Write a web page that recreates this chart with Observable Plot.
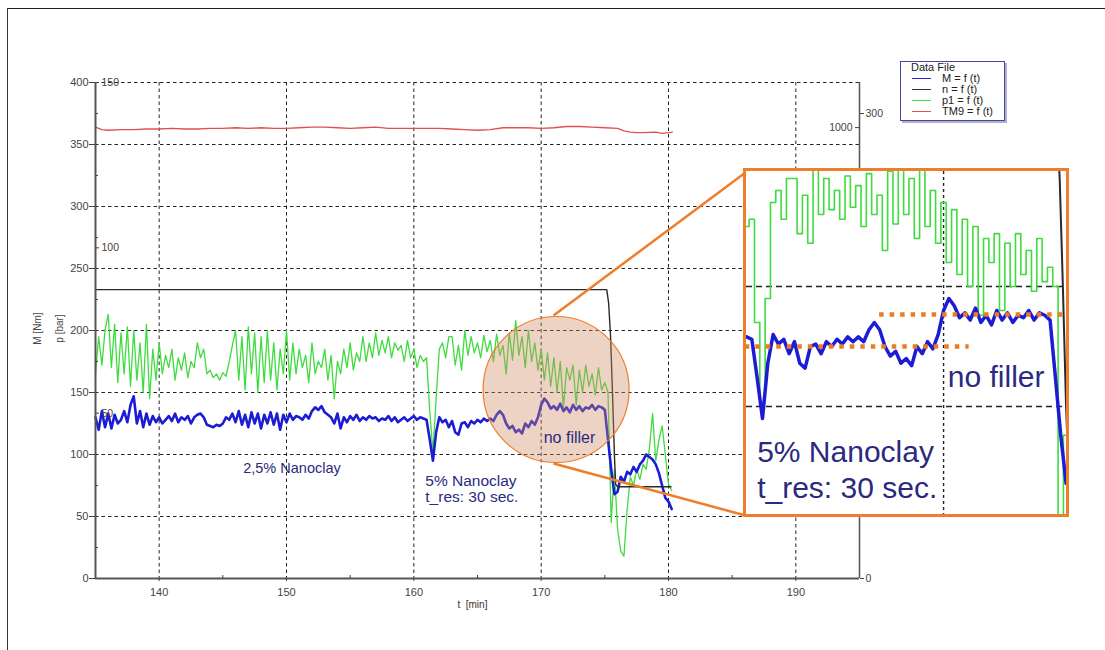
<!DOCTYPE html>
<html>
<head>
<meta charset="utf-8">
<script src="https://cdn.jsdelivr.net/npm/d3@7"></script>
<script src="https://cdn.jsdelivr.net/npm/@observablehq/plot@0.6"></script>
<style>
  html, body { margin: 0; padding: 0; background: #fff; }
  body { font-family: "Liberation Sans", Arial, sans-serif; }
  #page { position: relative; width: 1105px; height: 650px; overflow: hidden; background: #fff; }
  #frameTop { position: absolute; left: 7px; top: 8px; width: 1100px; height: 0; border-top: 1.5px solid #222; }
  #frameLeft { position: absolute; left: 7px; top: 8px; width: 0; height: 650px; border-left: 1.5px solid #333; }
  #main { position: absolute; left: 0; top: 0; }
  #inset { position: absolute; left: 743px; top: 168px; width: 320px; height: 343px; border: 3px solid #ee7d2c; background: #fff; overflow: hidden; }
  #legend { position: absolute; left: 900px; top: 61px; width: 103px; height: 58px; border: 1.5px solid #4545a5; box-shadow: 2px 2px 0 #b0b0c8; background: #fff; font-size: 11px; color: #222; }
  #legend .row { position: absolute; left: 0; height: 11px; line-height: 11px; }
  #legend .sw { position: absolute; left: 11px; width: 19px; top: 5px; height: 0; }
  #legend .lb { position: absolute; left: 41px; top: 0; white-space: nowrap; }
</style>
</head>
<body>
<div id="page">
  <div id="frameTop"></div>
  <div id="frameLeft"></div>
  <div id="main"></div>
  <div id="inset"></div>
  <div id="legend"></div>
</div>
<script>
// ---------------- data ----------------
// sampling of the recorded signals (minutes)
const tStart = 135;
const tStep = 0.25;

// p1 = f(t)  (green), one value per 0.25 min from 135 to 180.25
const greenP1 = [
  165,195,172,200, 213,170,205,158, 198,165,203,155, 200,160,190,150, 205,145,185,160,
  190,165,180,170, 185,160,178,168, 182,162,175,170, 190,178,185,165, 168,162,165,160,
  166,163,175,188, 200,160,195,152, 203,165,198,150, 195,158,200,160, 190,152,185,165,
  200,160,190,165, 185,170,180,158, 190,165,175,170, 185,160,180,145, 175,165,185,170,
  190,168,182,175, 195,175,190,178, 198,180,192,182, 195,178,190,184, 188,175,192,178,
  185,170,180,175, 178,135,102,145, 185,190,178,195, 195,172,188,168, 200,180,195,182,
  190,178,196,183, 192,175,197,180, 188,165,198,176, 208,180,195,170, 200,175,190,168,
  185,160,182,155, 178,150,175,138, 170,160,172,140, 168,150,172,155, 165,148,170,152,
  158,150,45,88, 40,22,18,55, 82,75,88,80, 92,88,105,133, 95,112,123,100,
  76,71
];

// M = f(t)  (blue), same sampling
const blueM = [
  130,120,135,122, 133,121,132,125, 128,135,126,140, 147,125,135,122, 133,124,131,126,
  130,125,128,131, 127,133,126,130, 128,131,125,130, 132,133,130,124, 123,122,124,123,
  125,130,128,133, 126,135,124,132, 122,134,125,133, 121,132,125,134, 124,133,120,132,
  126,133,128,131, 130,128,132,129, 135,138,136,139, 134,132,130,125, 133,121,130,126,
  131,128,132,127, 130,128,131,129, 130,127,129,128, 131,127,130,126, 128,130,127,129,
  131,128,130,129, 128,112,95,118, 130,126,128,122, 127,118,116,125, 126,122,127,125,
  128,126,129,127, 129,127,132,135, 132,125,121,123, 118,120,117,125, 122,127,124,130,
  140,145,142,137, 139,136,141,135, 138,134,140,136, 139,135,138,137, 140,136,139,138,
  136,112,88,68, 70,82,78,86, 84,90,86,92, 95,100,98,96, 92,85,75,65,
  62,56
];

// TM9 = f(t)  (red)
const redT = [135,135.5,136,137,138,139,140,141,142,143,144,145,146,147,148,149,150,151,152,153,154,155,156,157,158,159,160,161,162,163,164,165,166,167,168,169,170,171,172,173,174,175,176,176.5,177,177.5,178,179,179.5,180,180.3];
const redV = [364,362,361.5,362,362,362.5,362.5,363,362.5,362.5,363,363,363.5,363,363.5,363,363,363.5,364,364,363.5,363,363.5,364,363,363,363,363,363,362.5,362,361.5,362,363.5,363.5,363.5,363,363.5,364.5,364.5,364,363.5,363,361,360,359.5,359.5,360,359,359.5,360];

// n = f(t)  (black), read on the M / p axis
const blackT = [135, 175.15, 175.3, 175.45, 175.6, 175.75, 175.85, 176.0, 180.2];
const blackV = [233, 233, 222, 195, 150, 100, 76, 74, 74];

// axes
const xMajor = [140, 150, 160, 170, 180, 190];
const xMinor = [145, 155, 165, 175, 185];
const yMajor = [0, 50, 100, 150, 200, 250, 300, 350, 400];
const yMinor = [25, 75, 125, 175, 225, 275, 325, 375];
const nAxisMax = 150, nTicks = [50, 100, 150];          // inner left scale
const rOuterMax = 320, rOuterTicks = [0, 100, 200, 300]; // right scale, labels outside
const rInnerMax = 1100, rInnerTicks = [500, 1000];       // right scale, labels inside

// annotations (main chart, data units)
const zoomCircle = [{t: 171.17, v: 152.4}];
const connectors = [
  {t1: 170.97, v1: 212.1, t2: 186.05, v2: 327.4},
  {t1: 170.97, v1: 92.7,  t2: 186.05, v2: 50.8}
];
const mainNotes = [
  {t: 146.6, v: 88.7, text: "2,5% Nanoclay", size: 14.5},
  {t: 160.9, v: 79.0, text: "5% Nanoclay", size: 15.5},
  {t: 160.9, v: 65.3, text: "t_res: 30 sec.", size: 15.5},
  {t: 170.2, v: 113.7, text: "no filler", size: 16}
];

// inset (zoom) window
const insetT = [160.75, 175.77];
const insetV = [55, 197.9];
const insetNotes = [
  {t: 161.25, v: 80.8, text: "5% Nanoclay"},
  {t: 161.25, v: 65.8, text: "t_res: 30 sec."},
  {t: 170.2, v: 112.0, text: "no filler"}
];
const levelLines = [
  {v: 125.0, t1: 160.2, t2: 171.2},
  {v: 138.3, t1: 167.0, t2: 176.0}
];

// legend
const legendItems = [
  {label: "M = f (t)", color: "#2323d8"},
  {label: "n = f (t)", color: "#333333"},
  {label: "p1 = f (t)", color: "#44dd44"},
  {label: "TM9 = f (t)", color: "#e05555"}
];

// -------------- tables --------------
const green = greenP1.map((v, i) => ({t: tStart + i * tStep, v}));
const blue = blueM.map((v, i) => ({t: tStart + i * tStep, v}));
const red = redT.map((t, i) => ({t, v: redV[i]}));
const black = blackT.map((t, i) => ({t, v: blackV[i]}));

const FONT = '"Liberation Sans", Arial, sans-serif';
const GREEN = "#3fdc3f", BLUE = "#1c1cd4", RED = "#e05050", BLACK = "#2a2a2a", NAVY = "#2a2a80", ORANGE = "#ee7d2c";
const gridStyle = {stroke: "#222", strokeWidth: 1, strokeDasharray: "3.5,3"};

// -------------- main chart --------------
const main = Plot.plot({
  width: 1105, height: 650,
  marginLeft: 95, marginRight: 246, marginTop: 82, marginBottom: 72,
  x: {domain: [135, 195]},
  y: {domain: [0, 400]},
  style: {fontFamily: FONT, fontSize: "11px", color: "#444", background: "transparent", overflow: "visible"},
  marks: [
    Plot.ruleX(xMajor, gridStyle),
    Plot.ruleY(yMajor.filter(d => d > 0), gridStyle),
    Plot.line(red, {x: "t", y: "v", stroke: RED, strokeWidth: 1.3}),
    Plot.line(green, {x: "t", y: "v", stroke: GREEN, strokeWidth: 1.3}),
    Plot.line(blue, {x: "t", y: "v", stroke: BLUE, strokeWidth: 2.6}),
    Plot.line(black, {x: "t", y: "v", stroke: BLACK, strokeWidth: 1.4}),
    Plot.dot(zoomCircle, {x: "t", y: "v", r: 73, fill: "rgb(205,140,100)", fillOpacity: 0.38, stroke: ORANGE, strokeWidth: 1.2}),
    Plot.link(connectors, {x1: "t1", y1: "v1", x2: "t2", y2: "v2", stroke: ORANGE, strokeWidth: 2.5}),
    Plot.text(mainNotes, {x: "t", y: "v", text: "text", fontSize: "size", textAnchor: "start", lineAnchor: "middle", fill: NAVY}),
    // frame lines
    Plot.ruleX([135], {stroke: "#555", strokeWidth: 2}),
    Plot.ruleX([195], {stroke: "#555", strokeWidth: 1.5}),
    Plot.ruleY([0], {stroke: "#555", strokeWidth: 2}),
    // left axis
    Plot.axisY(yMajor, {anchor: "left", tickSize: 6, tickPadding: 1, label: null, fontSize: 11}),
    Plot.axisY(yMinor, {anchor: "left", tickSize: -3, tickFormat: () => "", label: null}),
    // inner left n scale
    Plot.axisY(nTicks.map(d => d * 400 / nAxisMax), {anchor: "left", tickSize: -4, tickFormat: () => "", label: null}),
    Plot.text(nTicks, {x: 135, y: d => d * 400 / nAxisMax, text: d => String(d), textAnchor: "start", dx: 6, fontSize: 10.5, fill: "#444"}),
    // right axes
    Plot.axisY(rOuterTicks.map(d => d * 400 / rOuterMax), {anchor: "right", tickSize: 4, tickPadding: 2, label: null, fontSize: 10.5, tickFormat: v => String(Math.round(v * rOuterMax / 400))}),
    Plot.axisY(rInnerTicks.map(d => d * 400 / rInnerMax), {anchor: "right", tickSize: -5, tickFormat: () => "", label: null}),
    Plot.text(rInnerTicks, {x: 195, y: d => d * 400 / rInnerMax, text: d => String(d), textAnchor: "end", dx: -7, fontSize: 10.5, fill: "#444"}),
    // x axis
    Plot.axisX(xMajor, {anchor: "bottom", tickSize: 3, tickPadding: 7, label: null, fontSize: 11}),
    Plot.axisX(xMinor, {anchor: "bottom", tickSize: -3, tickFormat: () => "", label: null}),
    Plot.text(["t  [min]"], {x: 164.6, y: -21.5, text: d => d, fontSize: 10, fill: "#333"}),
    Plot.text(["M [Nm]"], {x: 130.45, y: 201.6, text: d => d, rotate: -90, fontSize: 10, fill: "#444"}),
    Plot.text(["p [bar]"], {x: 132.2, y: 201.6, text: d => d, rotate: -90, fontSize: 10, fill: "#444"})
  ]
});
document.getElementById("main").appendChild(main);

// -------------- inset --------------
const inset = Plot.plot({
  width: 320, height: 343,
  marginLeft: 0, marginRight: 0, marginTop: 0, marginBottom: 0,
  x: {domain: insetT, axis: null},
  y: {domain: insetV, axis: null},
  style: {fontFamily: FONT, background: "#fff"},
  marks: [
    Plot.ruleY([100, 150], {stroke: "#222", strokeWidth: 1.4, strokeDasharray: "6,4"}),
    Plot.ruleX([170], {stroke: "#222", strokeWidth: 1.4, strokeDasharray: "3,3"}),
    Plot.line(green, {x: "t", y: "v", stroke: GREEN, strokeWidth: 1.6, curve: "step", clip: true}),
    Plot.line(blue, {x: "t", y: "v", stroke: BLUE, strokeWidth: 3.5, clip: true}),
    Plot.line(black, {x: "t", y: "v", stroke: BLACK, strokeWidth: 2, clip: true}),
    Plot.ruleY(levelLines, {y: "v", x1: "t1", x2: "t2", stroke: "#f07a1e", strokeWidth: 4.5, strokeDasharray: "4.5,6", clip: true}),
    Plot.text(insetNotes, {x: "t", y: "v", text: "text", textAnchor: "start", lineAnchor: "middle", fill: NAVY, fontSize: 30})
  ]
});
document.getElementById("inset").appendChild(inset);

// -------------- legend --------------
const lg = document.getElementById("legend");
const title = document.createElement("div");
title.className = "row"; title.style.top = "0px"; title.style.left = "10px"; title.textContent = "Data File";
lg.appendChild(title);
legendItems.forEach((d, i) => {
  const row = document.createElement("div");
  row.className = "row";
  row.style.top = (11 + i * 11) + "px";
  row.style.width = "100%";
  const sw = document.createElement("div");
  sw.className = "sw";
  sw.style.borderTop = "1.6px solid " + d.color;
  const lb = document.createElement("div");
  lb.className = "lb"; lb.textContent = d.label;
  row.appendChild(sw); row.appendChild(lb);
  lg.appendChild(row);
});
</script>
</body>
</html>
